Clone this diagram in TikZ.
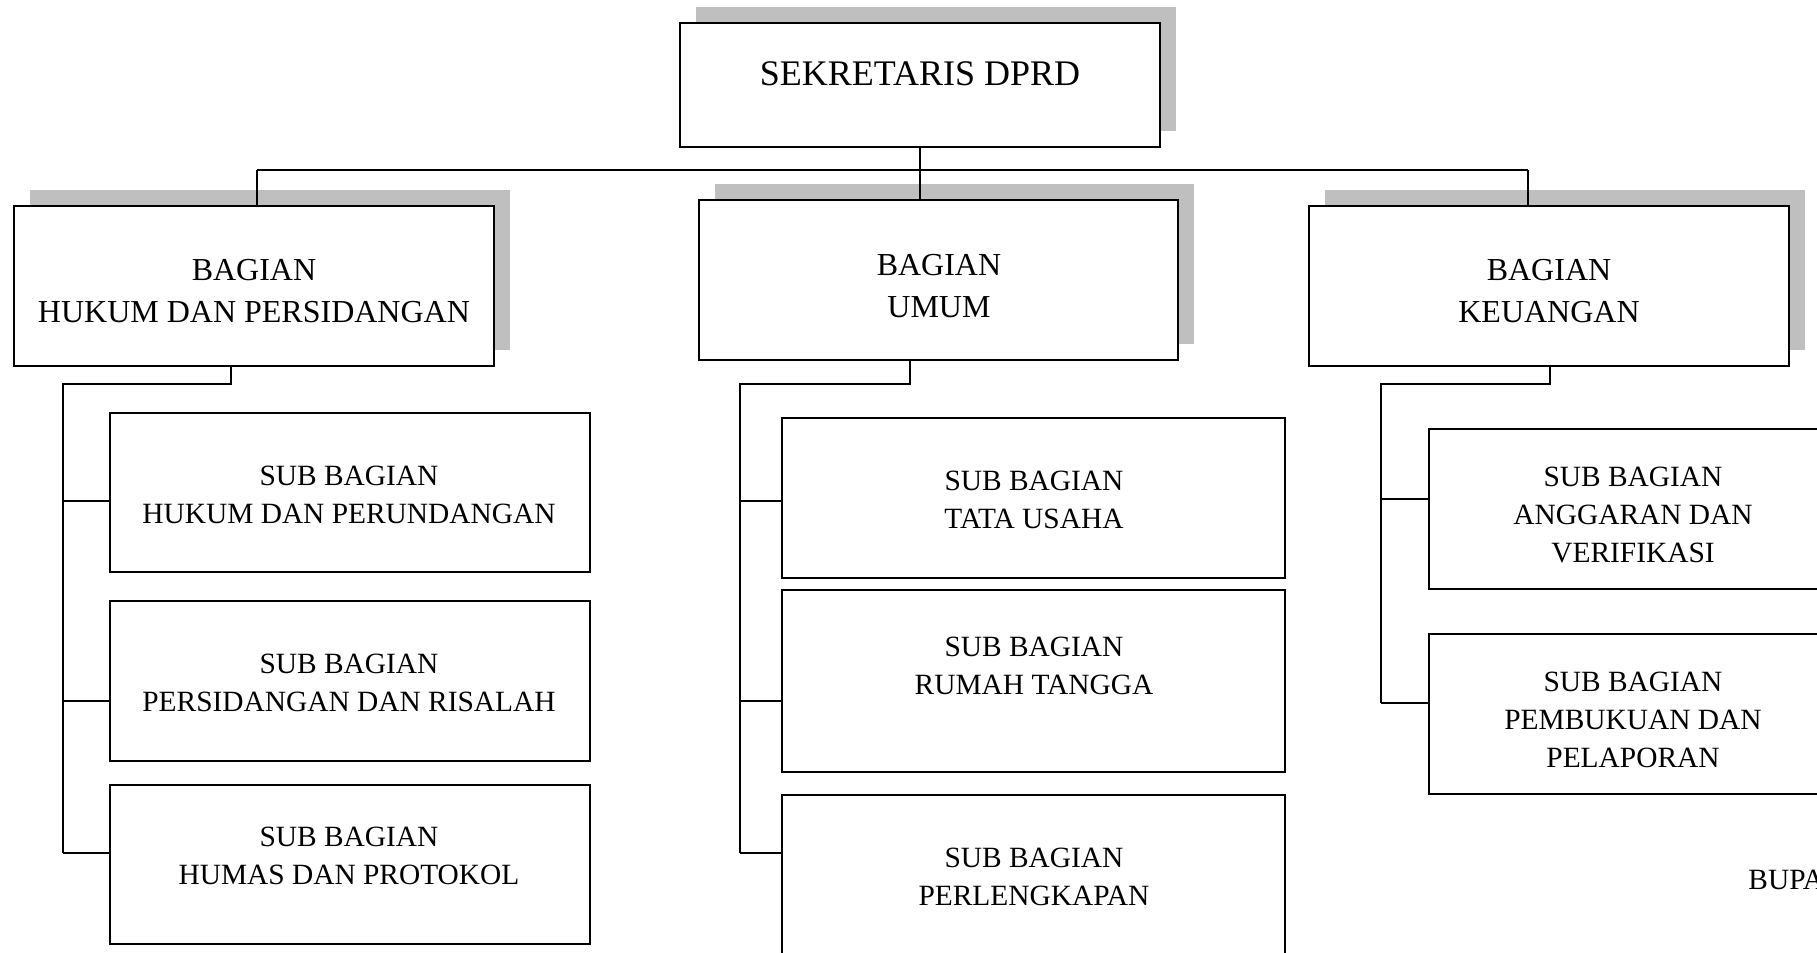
\documentclass[tikz,border=0pt]{standalone}
\usepackage{fontspec}
\setmainfont{Liberation Serif}
\usetikzlibrary{fit}
\definecolor{shadowgray}{HTML}{BFBFBF}
\begin{document}
\begin{tikzpicture}[x=0.5pt,y=-0.5pt,
  orgbox/.style={draw=black,line width=1pt,fill=white,inner sep=0pt},
  shade/.style={fill=shadowgray},
  conn/.style={draw=black,line width=1pt},
  toptext/.style={font=\fontsize{18}{22}\selectfont,align=center,inner sep=0pt},
  bagtext/.style={font=\fontsize{16}{21}\selectfont,align=center,inner sep=0pt},
  subtext/.style={font=\fontsize{14.7}{19.2}\selectfont,align=center,inner sep=0pt}]
\useasboundingbox (0,0) rectangle (1817,953);
\clip (0,0) rectangle (1817,953);
% shadows
\fill[shade] (696,7) rectangle (1176,131);
\fill[shade] (30,190) rectangle (510,350);
\fill[shade] (715,184) rectangle (1194,344);
\fill[shade] (1325,190) rectangle (1805,350);
% boxes
\node[orgbox,fit={(680,23)(1160,147)}] (sek) {};
\node[orgbox,fit={(14,206)(494,366)}] (bl) {};
\node[orgbox,fit={(699,200)(1178,360)}] (bm) {};
\node[orgbox,fit={(1309,206)(1789,366)}] (br) {};
\node[orgbox,fit={(110,413)(590,572)}] (l1) {};
\node[orgbox,fit={(110,601)(590,761)}] (l2) {};
\node[orgbox,fit={(110,785)(590,944)}] (l3) {};
\node[orgbox,fit={(782,418)(1285,578)}] (m1) {};
\node[orgbox,fit={(782,590)(1285,772)}] (m2) {};
\node[orgbox,fit={(782,795)(1285,975)}] (m3) {};
\node[orgbox,fit={(1429,429)(1850,589)}] (r1) {};
\node[orgbox,fit={(1429,634)(1850,794)}] (r2) {};
% texts
\node[toptext] (tsek) at (920,74) {SEKRETARIS DPRD};
\node[bagtext] (tbl) at (254,291) {BAGIAN\\HUKUM DAN PERSIDANGAN};
\node[bagtext] (tbm) at (939,286) {BAGIAN\\UMUM};
\node[bagtext] (tbr) at (1549,291) {BAGIAN\\KEUANGAN};
\node[subtext] (tl1) at (349,495) {SUB BAGIAN\\HUKUM DAN PERUNDANGAN};
\node[subtext] (tl2) at (349,683) {SUB BAGIAN\\PERSIDANGAN DAN RISALAH};
\node[subtext] (tl3) at (349,856) {SUB BAGIAN\\HUMAS DAN PROTOKOL};
\node[subtext] (tm1) at (1034,500) {SUB BAGIAN\\TATA USAHA};
\node[subtext] (tm2) at (1034,666) {SUB BAGIAN\\RUMAH TANGGA};
\node[subtext] (tm3) at (1034,877) {SUB BAGIAN\\PERLENGKAPAN};
\node[subtext] (tr1) at (1633,515) {SUB BAGIAN\\ANGGARAN DAN\\VERIFIKASI};
\node[subtext] (tr2) at (1633,720) {SUB BAGIAN\\PEMBUKUAN DAN\\PELAPORAN};
\node[subtext,anchor=west] (bupa) at (1748,880) {BUPA};
% top connectors
\coordinate (busl) at (257,170);
\coordinate (busr) at (1528,170);
\draw[conn] (busl) -- (busr);
\draw[conn] (sek.south) -- (sek.south |- bm.north);
\draw[conn] (busl) -- (busl |- bl.north);
\draw[conn] (busr) -- (busr |- br.north);
% left sub tree
\coordinate (lk) at (231,384);
\coordinate (lv) at (63,384);
\draw[conn] (lk |- bl.south) -- (lk) -- (lv) -- (63,853);
\draw[conn] (63,501) -- (l1.west |- 0,501);
\draw[conn] (63,701) -- (l2.west |- 0,701);
\draw[conn] (63,853) -- (l3.west |- 0,853);
% middle sub tree
\coordinate (mk) at (910,384);
\coordinate (mv) at (740,384);
\draw[conn] (mk |- bm.south) -- (mk) -- (mv) -- (740,853);
\draw[conn] (740,501) -- (m1.west |- 0,501);
\draw[conn] (740,701) -- (m2.west |- 0,701);
\draw[conn] (740,853) -- (m3.west |- 0,853);
% right sub tree
\coordinate (rk) at (1550,384);
\coordinate (rv) at (1381,384);
\draw[conn] (rk |- br.south) -- (rk) -- (rv) -- (1381,703);
\draw[conn] (1381,499) -- (r1.west |- 0,499);
\draw[conn] (1381,703) -- (r2.west |- 0,703);
\end{tikzpicture}
\end{document}
